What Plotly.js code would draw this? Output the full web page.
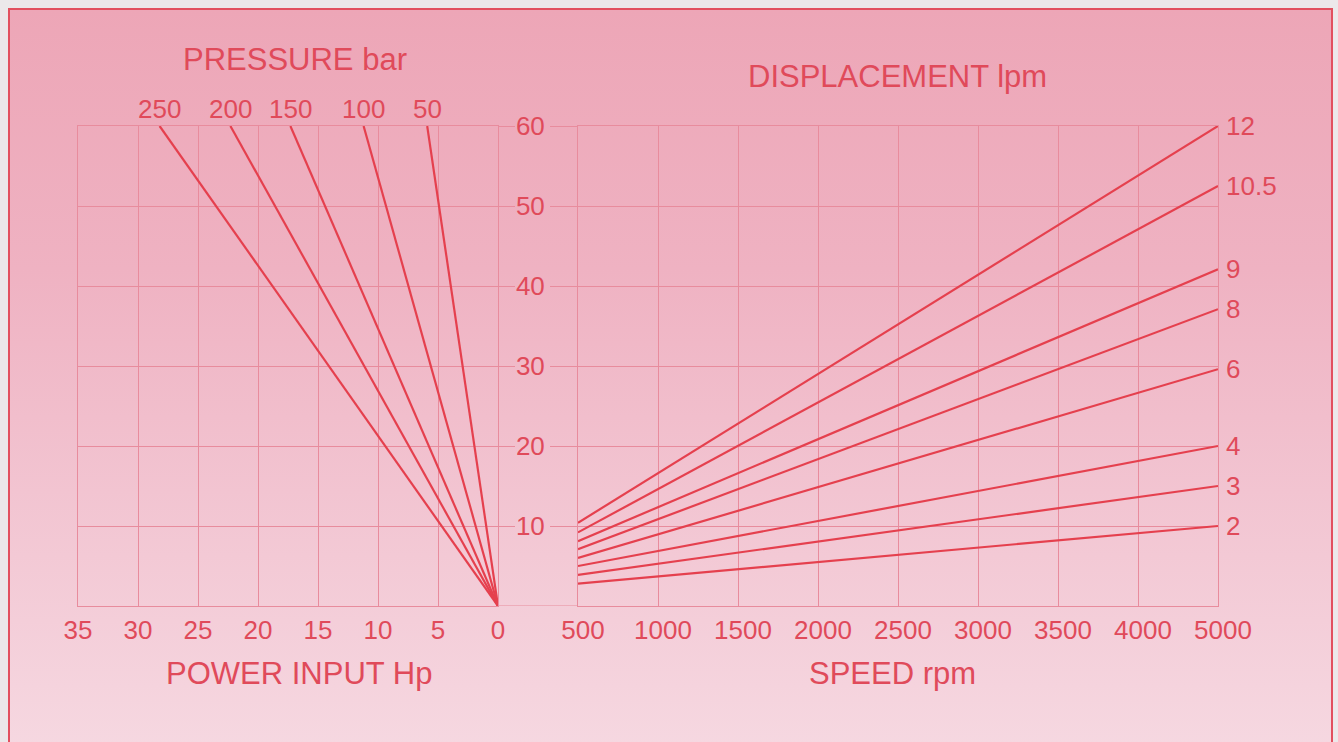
<!DOCTYPE html>
<html>
<head>
<meta charset="utf-8">
<script src="https://cdn.plot.ly/plotly-3.0.1.min.js"></script>
<style>
  html, body { margin: 0; padding: 0; width: 1338px; height: 742px; overflow: hidden; background: #ece8ea; }
  #frame {
    position: absolute; left: 8px; top: 8px; width: 1321px; height: 740px;
    border-top: 2px solid #e2505f; border-left: 2px solid #e2505f; border-right: 2px solid #e2505f;
    background: linear-gradient(to bottom, #eda6b7 0%, #efb2c2 35%, #f2c4d1 65%, #f6d8e1 100%);
  }
  #chart { position: absolute; left: 0; top: 0; width: 1338px; height: 742px; }
</style>
</head>
<body>
<div id="frame"></div>
<div id="chart"></div>
<script>
// ---- data ----
const pressureLabels = ['250', '200', '150', '100', '50'];      // bar
const powerAt60 = [28.2, 22.3, 17.3, 11.2, 5.9];                 // Hp where each line reaches 60 lpm
const powerTicks = [35, 30, 25, 20, 15, 10, 5, 0];

const speedTicks = ['500', '1000', '1500', '2000', '2500', '3000', '3500', '4000', '5000']; // rpm (as printed)
const displacementLabels = ['12', '10.5', '9', '8', '6', '4', '3', '2'];
const flowAtStart = [10.4, 9.2, 8.1, 7.1, 6.0, 5.0, 3.9, 2.8];    // lpm at 500 rpm
const flowAtEnd = [60, 52.5, 42.1, 37.1, 29.6, 20, 15, 10];       // lpm at 5000 rpm
const flowTicks = [10, 20, 30, 40, 50, 60];

// ---- style ----
const RED = '#e5404e';
const TXT = '#e04a5a';
const GRID = '#e88c9d';
const FONT = 'Liberation Sans, Arial, Helvetica, sans-serif';
const TICK = 26, TITLE = 31;

const W = 1338, H = 742;
const px = v => v / W, py = v => 1 - v / H;
const leftDom = [px(78), px(498)];
const rightDom = [px(578), px(1218)];
const yDom = [py(606), py(126)];

const traces = [];
pressureLabels.forEach((p, i) => {
  traces.push({
    type: 'scatter', mode: 'lines', xaxis: 'x', yaxis: 'y',
    x: [0, powerAt60[i]], y: [0, 60],
    line: { color: RED, width: 2.2 }, hoverinfo: 'skip', showlegend: false
  });
});
displacementLabels.forEach((d, i) => {
  traces.push({
    type: 'scatter', mode: 'lines', xaxis: 'x2', yaxis: 'y2',
    x: [speedTicks[0], speedTicks[speedTicks.length - 1]], y: [flowAtStart[i], flowAtEnd[i]],
    line: { color: RED, width: 2.2 }, hoverinfo: 'skip', showlegend: false
  });
});

const annotations = [];
pressureLabels.forEach((p, i) => {
  annotations.push({
    xref: 'x', yref: 'y', x: powerAt60[i], y: 60, text: p, showarrow: false,
    yanchor: 'bottom', yshift: 0, font: { family: FONT, size: TICK, color: TXT }
  });
});
displacementLabels.forEach((d, i) => {
  annotations.push({
    xref: 'x2', yref: 'y2', x: speedTicks.length - 1, y: flowAtEnd[i], text: d, showarrow: false,
    xanchor: 'left', xshift: 6, font: { family: FONT, size: TICK, color: TXT }
  });
});
const titles = [
  ['PRESSURE bar', 295, 60], ['DISPLACEMENT lpm', 897, 76],
  ['POWER INPUT Hp', 299, 673], ['SPEED rpm', 892, 673]
];
titles.forEach(t => annotations.push({
  xref: 'paper', yref: 'paper', x: px(t[1]), y: py(t[2]), text: t[0], showarrow: false,
  xanchor: 'center', yanchor: 'middle', font: { family: FONT, size: TITLE, color: TXT }
}));

const axisCommon = {
  showgrid: true, gridcolor: GRID, gridwidth: 1,
  showline: true, linecolor: GRID, linewidth: 1, mirror: true,
  zeroline: false, fixedrange: true,
  tickfont: { family: FONT, size: TICK, color: TXT }
};

const layout = {
  width: W, height: H,
  margin: { l: 0, r: 0, t: 0, b: 0 },
  paper_bgcolor: 'rgba(0,0,0,0)', plot_bgcolor: 'rgba(0,0,0,0)',
  showlegend: false,
  xaxis: Object.assign({}, axisCommon, {
    domain: leftDom, anchor: 'y', range: [35, 0], tickvals: powerTicks, ticks: '', ticklabelstandoff: 1
  }),
  yaxis: Object.assign({}, axisCommon, {
    domain: yDom, anchor: 'x', range: [0, 60], tickvals: flowTicks, side: 'right',
    ticks: 'outside', ticklen: 16, tickcolor: GRID, tickwidth: 1, showticklabels: false
  }),
  xaxis2: Object.assign({}, axisCommon, {
    domain: rightDom, anchor: 'y2', type: 'category', categoryorder: 'array', categoryarray: speedTicks,
    range: [0, speedTicks.length - 1], ticks: '', ticklabelshift: 5, ticklabelstandoff: 1
  }),
  yaxis2: Object.assign({}, axisCommon, {
    domain: yDom, anchor: 'x2', range: [0, 60], tickvals: flowTicks, side: 'left',
    ticks: 'outside', ticklen: 27, tickcolor: GRID, tickwidth: 1
  }),
  shapes: [{
    type: 'line', xref: 'paper', yref: 'y', x0: leftDom[1], x1: rightDom[0], y0: 0, y1: 0,
    line: { color: GRID, width: 1 }
  }],
  annotations: annotations
};

Plotly.newPlot('chart', traces, layout, { displayModeBar: false, staticPlot: true });
</script>
</body>
</html>
